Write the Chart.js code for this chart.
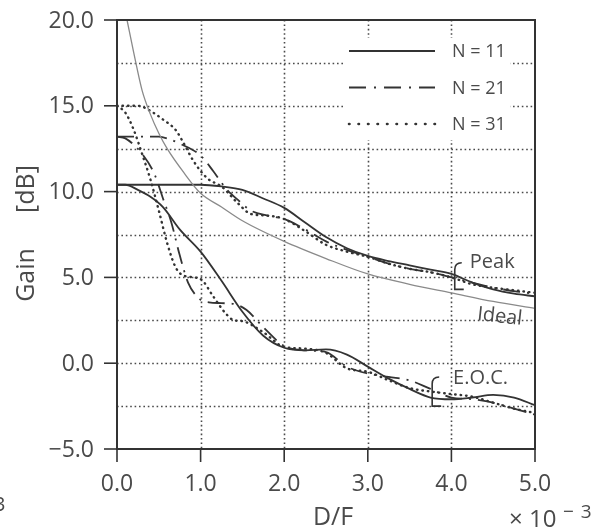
<!DOCTYPE html>
<html lang="en">
<head>
<meta charset="UTF-8">
<title>Gain vs D/F</title>
<script src="https://cdn.jsdelivr.net/npm/chart.js"></script>
<style>
  body { margin: 0; background: #fff; }
  #gainChart { display: block; }
</style>
</head>
<body>
<canvas id="gainChart" width="603" height="531"></canvas>
<script>
// axis ticks and grid
const xTicks = [0, 1, 2, 3, 4, 5];
const xTickLabels = ['0.0', '1.0', '2.0', '3.0', '4.0', '5.0'];
const yTicks = [-5, 0, 5, 10, 15, 20];
const yTickLabels = ['\u22125.0', '0.0', '5.0', '10.0', '15.0', '20.0'];
const gridX = [1, 2, 3, 4];
const gridY = [-2.5, 0, 2.5, 5, 7.5, 10, 12.5, 15, 17.5];

const seriesNames = ['N = 11', 'N = 21', 'N = 31'];

// ideal gain
const idealX = [0.12, 0.2, 0.3, 0.4, 0.5, 0.6, 0.8, 1.0, 1.25, 1.5, 2.0, 2.5, 3.0, 3.5, 4.0, 4.5, 5.0];
const idealGain = [20.0, 18.1, 15.9, 14.5, 13.4, 12.5, 11.1, 9.9, 9.1, 8.3, 7.1, 6.1, 5.2, 4.6, 4.1, 3.6, 3.2];

// peak gain
const peakX11 = [0, 0.5, 1.0, 1.25, 1.5, 1.75, 2.0, 2.25, 2.5, 2.75, 3.0, 3.25, 3.5, 3.75, 4.0, 4.25, 4.5, 4.75, 5.0];
const peakGain11 = [10.4, 10.4, 10.4, 10.3, 10.1, 9.6, 9.05, 8.2, 7.35, 6.7, 6.25, 5.95, 5.7, 5.45, 5.2, 4.7, 4.3, 4.05, 3.9];
const peakX21 = [0, 0.25, 0.5, 0.6, 0.75, 1.0, 1.15, 1.3, 1.45, 1.6, 1.8, 2.0, 2.25, 2.5, 2.75, 3.0, 3.25, 3.5, 3.75, 4.0, 4.25, 4.5, 4.75, 5.0];
const peakGain21 = [13.2, 13.2, 13.2, 13.1, 12.8, 12.1, 11.2, 10.2, 9.5, 8.9, 8.6, 8.4, 7.8, 7.1, 6.6, 6.2, 5.8, 5.5, 5.3, 5.0, 4.7, 4.4, 4.2, 4.05];
const peakX31 = [0, 0.25, 0.4, 0.55, 0.7, 0.8, 0.9, 1.0, 1.1, 1.25, 1.45, 1.6, 1.8, 2.0, 2.25, 2.5, 2.75, 3.0, 3.25, 3.5, 3.75, 4.0, 4.25, 4.5, 4.75, 5.0];
const peakGain31 = [15.0, 15.0, 14.7, 14.2, 13.6, 12.8, 11.9, 11.2, 10.7, 10.3, 9.3, 8.7, 8.6, 8.4, 7.7, 6.9, 6.5, 6.2, 5.8, 5.5, 5.3, 5.0, 4.6, 4.4, 4.25, 4.1];

// edge-of-coverage gain
const eocX11 = [0, 0.1, 0.25, 0.4, 0.55, 0.75, 1.0, 1.25, 1.5, 1.75, 2.0, 2.25, 2.5, 2.75, 3.0, 3.25, 3.5, 3.75, 4.0, 4.25, 4.5, 4.75, 5.0];
const eocGain11 = [10.4, 10.4, 10.1, 9.7, 9.1, 7.8, 6.5, 4.8, 3.0, 1.6, 0.9, 0.75, 0.8, 0.5, -0.2, -0.9, -1.5, -2.0, -2.1, -2.0, -1.85, -2.0, -2.45];
const eocX21 = [0, 0.1, 0.3, 0.45, 0.55, 0.65, 0.75, 0.85, 1.0, 1.1, 1.25, 1.4, 1.55, 1.75, 2.0, 2.25, 2.5, 2.75, 3.0, 3.25, 3.5, 3.75, 4.0, 4.25, 4.5, 4.75, 5.0];
const eocGain21 = [13.2, 13.1, 12.2, 11.0, 9.6, 8.2, 6.3, 4.7, 3.7, 3.55, 3.5, 3.45, 3.1, 2.1, 1.0, 0.75, 0.65, -0.2, -0.6, -0.8, -1.0, -1.5, -2.0, -2.1, -2.3, -2.65, -3.0];
const eocX31 = [0, 0.1, 0.2, 0.3, 0.4, 0.5, 0.6, 0.7, 0.8, 1.0, 1.15, 1.3, 1.4, 1.5, 1.75, 2.0, 2.25, 2.5, 2.75, 3.0, 3.25, 3.5, 3.75, 4.0, 4.25, 4.5, 4.75, 5.0];
const eocGain31 = [15.0, 14.6, 13.6, 12.2, 10.7, 8.9, 7.0, 5.6, 5.1, 4.9, 3.9, 2.9, 2.5, 2.45, 1.8, 0.95, 0.85, 0.6, -0.3, -0.5, -1.0, -1.45, -1.65, -1.8, -1.95, -2.3, -2.65, -2.9];

const font = "'Open Sans', sans-serif";
const ink = '#333';
const textInk = '#4a4a4a';

const dashes = [[], [17, 7, 2, 7], [0.5, 5]];
const legendDashes = [[], [17, 8, 2, 8], [0.5, 9]];

function points(xs, ys) {
  return xs.map((x, i) => ({ x: x, y: ys[i] }));
}

function curve(label, xs, ys, n) {
  return {
    label: label,
    data: points(xs, ys),
    borderColor: ink,
    borderWidth: n === 2 ? 2.4 : 1.8,
    borderDash: dashes[n],
    borderCapStyle: n === 2 ? 'round' : 'butt',
    cubicInterpolationMode: 'monotone',
    pointRadius: 0
  };
}

function line(ctx, x1, y1, x2, y2) {
  ctx.beginPath();
  ctx.moveTo(x1, y1);
  ctx.lineTo(x2, y2);
  ctx.stroke();
}

function brace(ctx, px, top, bottom) {
  ctx.beginPath();
  ctx.moveTo(px + 7, top);
  ctx.quadraticCurveTo(px, top, px, top + 7);
  ctx.lineTo(px, bottom);
  ctx.lineTo(px + 9, bottom);
  ctx.stroke();
}

// grid, frame, ticks, legend and labels drawn around the datasets
const gainFrame = {
  id: 'gainFrame',
  beforeDatasetsDraw(chart) {
    const { ctx, chartArea: a, scales: { x, y } } = chart;
    ctx.save();
    ctx.strokeStyle = '#4a4a4a';
    ctx.lineWidth = 1.6;
    ctx.setLineDash([1.6, 2.8]);
    gridX.forEach(v => {
      const px = Math.round(x.getPixelForValue(v)) + 0.5;
      line(ctx, px, a.top, px, a.bottom);
    });
    gridY.forEach(v => {
      const py = Math.round(y.getPixelForValue(v)) + 0.5;
      line(ctx, a.left, py, a.right, py);
    });
    ctx.restore();
  },
  afterDatasetsDraw(chart) {
    const { ctx, chartArea: a, scales: { x, y } } = chart;
    ctx.save();

    // legend
    ctx.fillStyle = '#fff';
    ctx.fillRect(345, 38, 165, 102);
    ctx.font = '18px ' + font;
    ctx.textBaseline = 'middle';
    ctx.textAlign = 'left';
    seriesNames.forEach((name, i) => {
      const ly = 51 + i * 36.5;
      ctx.strokeStyle = ink;
      ctx.lineWidth = i === 2 ? 2.6 : 1.9;
      ctx.lineCap = i === 2 ? 'round' : 'butt';
      ctx.setLineDash(legendDashes[i]);
      line(ctx, 349, ly, 435, ly);
      ctx.fillStyle = textInk;
      ctx.fillText(name, 452, ly + 1);
    });
    ctx.setLineDash([]);
    ctx.lineCap = 'butt';

    // frame and ticks
    ctx.strokeStyle = ink;
    ctx.lineWidth = 2;
    ctx.strokeRect(a.left, a.top, a.width, a.height);
    ctx.lineWidth = 1.6;
    xTicks.forEach(v => {
      const px = x.getPixelForValue(v);
      line(ctx, px, a.bottom, px, a.bottom + 13);
    });
    yTicks.forEach(v => {
      const py = y.getPixelForValue(v);
      line(ctx, a.left - 13, py, a.left, py);
    });

    // tick labels
    ctx.fillStyle = textInk;
    ctx.font = '23px ' + font;
    ctx.textAlign = 'center';
    ctx.textBaseline = 'middle';
    xTicks.forEach((v, i) => ctx.fillText(xTickLabels[i], x.getPixelForValue(v), a.bottom + 35));
    ctx.textAlign = 'right';
    yTicks.forEach((v, i) => ctx.fillText(yTickLabels[i], a.left - 23, y.getPixelForValue(v) + 1));

    // axis titles
    ctx.textAlign = 'center';
    ctx.font = '25px ' + font;
    ctx.fillText('D/F', 333, 518);
    ctx.textAlign = 'left';
    ctx.textBaseline = 'alphabetic';
    ctx.font = '24px ' + font;
    ctx.fillText('\u00d7 10', 509, 527);
    ctx.font = '19px ' + font;
    ctx.letterSpacing = '7px';
    ctx.fillText('\u22123', 563, 518);
    ctx.letterSpacing = '0px';

    ctx.save();
    ctx.translate(34, 0);
    ctx.rotate(-Math.PI / 2);
    ctx.font = '25px ' + font;
    ctx.textAlign = 'center';
    ctx.fillText('Gain', -275, 0);
    ctx.fillText('[dB]', -189, 0);
    ctx.restore();

    ctx.font = '20px ' + font;
    ctx.textBaseline = 'middle';
    ctx.fillText('3', -6, 505);

    // curve group annotations
    ctx.font = '20px ' + font;
    ctx.fillText('Peak', x.getPixelForValue(4.22), y.getPixelForValue(5.9));
    ctx.fillText('E.O.C.', x.getPixelForValue(4.02), y.getPixelForValue(-0.86));
    ctx.save();
    ctx.translate(x.getPixelForValue(4.31), y.getPixelForValue(2.85));
    ctx.rotate(0.11);
    ctx.fillText('Ideal', 0, 0);
    ctx.restore();

    ctx.strokeStyle = ink;
    ctx.lineWidth = 1.6;
    brace(ctx, x.getPixelForValue(4.04), y.getPixelForValue(5.85), y.getPixelForValue(4.3));
    brace(ctx, x.getPixelForValue(3.77), y.getPixelForValue(-0.8), y.getPixelForValue(-2.5));

    ctx.restore();
  }
};

new Chart(document.getElementById('gainChart'), {
  type: 'line',
  data: {
    datasets: [
      {
        label: 'Ideal',
        data: points(idealX, idealGain),
        borderColor: '#8a8a8a',
        borderWidth: 1.3,
        cubicInterpolationMode: 'monotone',
        pointRadius: 0
      },
      curve('Peak ' + seriesNames[0], peakX11, peakGain11, 0),
      curve('Peak ' + seriesNames[1], peakX21, peakGain21, 1),
      curve('Peak ' + seriesNames[2], peakX31, peakGain31, 2),
      curve('E.O.C. ' + seriesNames[0], eocX11, eocGain11, 0),
      curve('E.O.C. ' + seriesNames[1], eocX21, eocGain21, 1),
      curve('E.O.C. ' + seriesNames[2], eocX31, eocGain31, 2)
    ]
  },
  options: {
    responsive: false,
    animation: false,
    devicePixelRatio: 1,
    layout: { padding: { left: 117, right: 68, top: 20, bottom: 82 } },
    plugins: { legend: { display: false }, tooltip: { enabled: false } },
    scales: {
      x: { type: 'linear', min: 0, max: 5, display: false },
      y: { type: 'linear', min: -5, max: 20, display: false }
    }
  },
  plugins: [gainFrame]
});
</script>
</body>
</html>
